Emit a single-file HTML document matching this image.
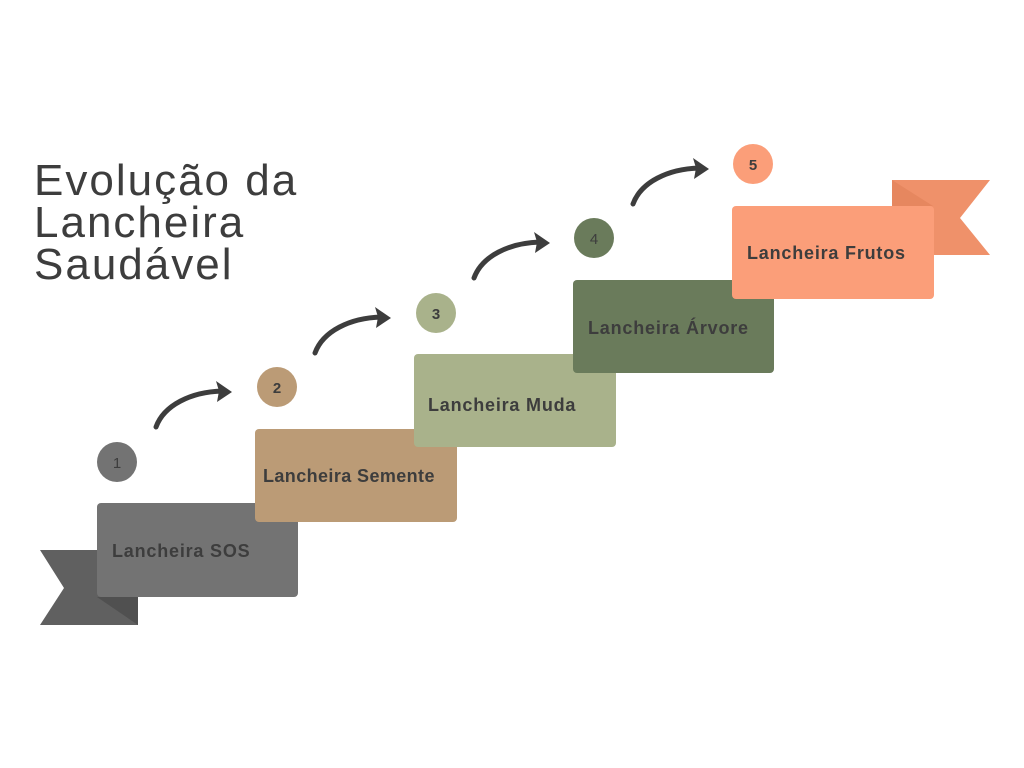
<!DOCTYPE html>
<html><head><style>
body{margin:0;background:#fff;}
svg{display:block}
text{font-family:"Liberation Sans",sans-serif}
</style></head><body>
<svg width="1024" height="768" viewBox="0 0 1024 768">
<rect width="1024" height="768" fill="#fff"/>
<g font-size="44" fill="#3d3d3d" letter-spacing="2">
<text x="34" y="195">Evolução da</text>
<text x="34" y="237">Lancheira</text>
<text x="34" y="279">Saudável</text>
</g>

<polygon points="40,550 138,550 138,625 40,625 64,588" fill="#606060"/>
<polygon points="892,180 990,180 960,218 990,255 892,255" fill="#ef916a"/>
<polygon points="892,180 933,206 892,206" fill="#e6875f"/>

<polygon points="97,597 138,597 138,625" fill="#505050"/>
<polygon points="256,522 298,522 298,550" fill="#a37e58"/>
<polygon points="415,447 456,447 456,475" fill="#8c9870"/>
<polygon points="574,373 615,373 615,401" fill="#546446"/>
<polygon points="733,299 774,299 774,327" fill="#e6875f"/>

<rect x="97" y="503" width="201" height="94" rx="4" fill="#737373"/>
<rect x="255" y="429" width="202" height="93" rx="4" fill="#bb9b76"/>
<rect x="414" y="354" width="202" height="93" rx="4" fill="#a9b28b"/>
<rect x="573" y="280" width="201" height="93" rx="4" fill="#6a7b5b"/>
<rect x="732" y="206" width="202" height="93" rx="4" fill="#fb9e79"/>

<g font-size="18" font-weight="bold" fill="#3d3d3d" letter-spacing="0.8">
<text x="112" y="557">Lancheira SOS</text>
<text x="263" y="482" letter-spacing="0.4">Lancheira Semente</text>
<text x="428" y="411">Lancheira Muda</text>
<text x="588" y="334">Lancheira Árvore</text>
<text x="747" y="259">Lancheira Frutos</text>
</g>

<circle cx="117" cy="462" r="20" fill="#737373"/>
<circle cx="277" cy="387" r="20" fill="#bb9b76"/>
<circle cx="436" cy="313" r="20" fill="#a9b28b"/>
<circle cx="594" cy="238" r="20" fill="#6a7b5b"/>
<circle cx="753" cy="164" r="20" fill="#fb9e79"/>
<g font-size="15" fill="#3d3d3d" text-anchor="middle">
<text x="117" y="468">1</text>
<text x="277" y="393" font-weight="bold">2</text>
<text x="436" y="319" font-weight="bold">3</text>
<text x="594" y="244">4</text>
<text x="753" y="170" font-weight="bold">5</text>
</g>

<defs>
<g id="arr">
<path d="M0,0 C8,-22 35,-35 66,-36" fill="none" stroke="#3d3d3d" stroke-width="5" stroke-linecap="round"/>
<polygon points="76,-35 60,-46 63,-36 61,-25" fill="#3d3d3d"/>
</g>
</defs>
<use href="#arr" x="156" y="427"/>
<use href="#arr" x="315" y="353"/>
<use href="#arr" x="474" y="278"/>
<use href="#arr" x="633" y="204"/>
</svg>
</body></html>
